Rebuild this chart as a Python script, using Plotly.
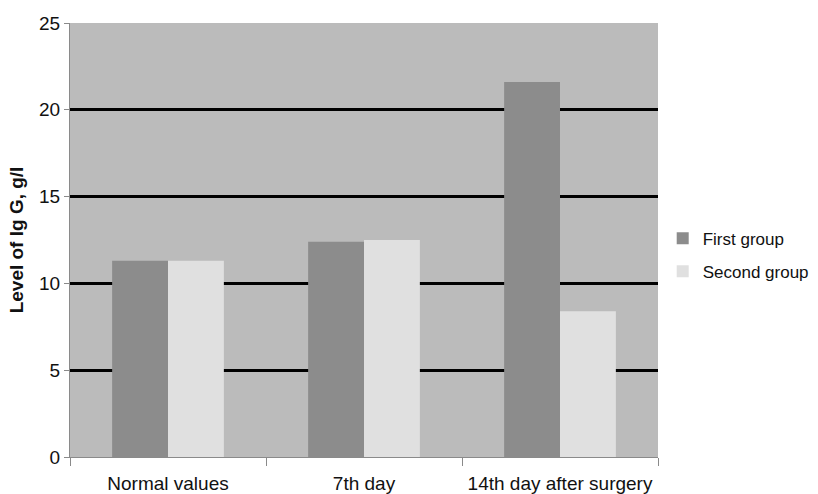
import plotly.graph_objects as go

# IgG levels (g/l) per observation point
categories = ["Normal values", "7th day", "14th day after surgery"]
first_group = [11.3, 12.4, 21.6]
second_group = [11.3, 12.5, 8.4]
y_ticks = [0, 5, 10, 15, 20, 25]

fig = go.Figure()
fig.add_trace(go.Bar(name="First group", x=categories, y=first_group, legendgroup="a",
                     marker=dict(color="#8c8c8c", line=dict(width=0))))
fig.add_trace(go.Bar(name="Second group", x=categories, y=second_group, legendgroup="b",
                     marker=dict(color="#e0e0e0", line=dict(width=0))))

fig.update_layout(
    width=818, height=494,
    margin=dict(l=70, r=160, t=23, b=37, autoexpand=False),
    paper_bgcolor="white",
    plot_bgcolor="#bbbbbb",
    barmode="group",
    bargap=0.43,
    bargroupgap=0,
    font=dict(family="Liberation Sans, Arial, sans-serif", color="#111111"),
    legend=dict(x=1.008, y=0.465, xanchor="left", yanchor="middle",
                font=dict(size=17),
                itemsizing="constant", itemwidth=30, tracegroupgap=8,
                bgcolor="rgba(0,0,0,0)"),
    showlegend=True,
)

fig.update_xaxes(
    type="category",
    showline=True, linecolor="#8a8a8a", linewidth=1,
    ticks="outside", tickson="boundaries", ticklen=8, tickcolor="#8a8a8a",
    ticklabelstandoff=9,
    tickfont=dict(size=19),
    showgrid=False,
)

fig.update_yaxes(
    range=[0, 25], tickvals=y_ticks,
    showline=True, linecolor="#8a8a8a", linewidth=1,
    ticks="outside", ticklen=5, tickcolor="#8a8a8a",
    tickfont=dict(size=19),
    showgrid=True, gridcolor="#000000", gridwidth=2.5,
    zeroline=False,
    title=dict(text="<b>Level of Ig G, g/l</b>", font=dict(size=19), standoff=10),
)

fig.write_html("out.html")
